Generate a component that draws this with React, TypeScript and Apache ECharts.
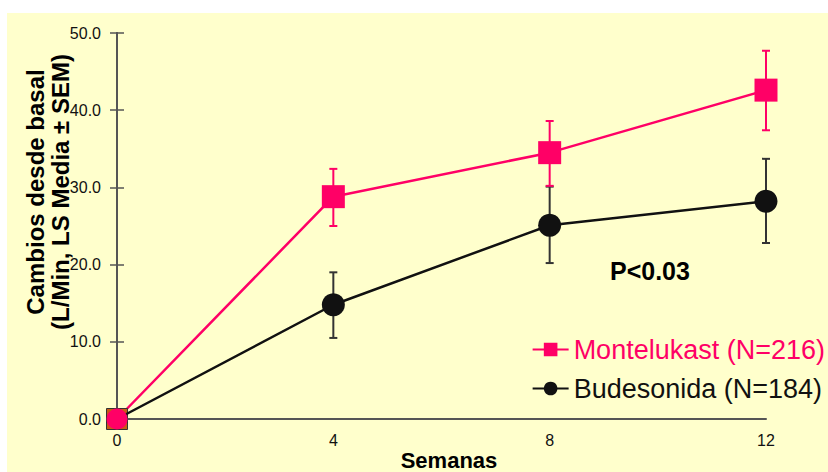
import React, { useEffect, useRef } from 'react';
import * as echarts from 'echarts';

const weeks = [0, 4, 8, 12];
const montMean = [0, 28.8, 34.5, 42.6];
const montLow = [0, 25.0, 30.2, 37.4];
const montHigh = [0, 32.4, 38.6, 47.7];
const budMean = [0, 14.8, 25.1, 28.2];
const budLow = [0, 10.5, 20.2, 22.8];
const budHigh = [0, 19.0, 30.1, 33.7];
const seriesNames = ['Montelukast (N=216)', 'Budesonida (N=184)'];
const yTitle = 'Cambios desde basal\n(L/Min, LS Media ± SEM)';
const xTitle = 'Semanas';
const pText = 'P<0.03';

const PINK = '#ff0066';
const DARK = '#111111';
const FONT = '"Liberation Sans", Arial, sans-serif';

function errorSeries(name: string, low: number[], high: number[], color: string) {
  return {
    name,
    type: 'custom',
    coordinateSystem: 'cartesian2d',
    xAxisIndex: 0,
    yAxisIndex: 0,
    z: 1,
    data: weeks.map((w, i) => [w, low[i], high[i]]),
    renderItem: (_p: any, api: any) => {
      const x = api.value(0);
      const lo = api.value(1);
      const hi = api.value(2);
      if (lo === hi) return null;
      const t = api.coord([x, hi]);
      const b = api.coord([x, lo]);
      const w = 4;
      const st = { stroke: color, lineWidth: 2 };
      return {
        type: 'group',
        children: [
          { type: 'line', shape: { x1: t[0], y1: t[1], x2: b[0], y2: b[1] }, style: st },
          { type: 'line', shape: { x1: t[0] - w, y1: t[1], x2: t[0] + w, y2: t[1] }, style: st },
          { type: 'line', shape: { x1: b[0] - w, y1: b[1], x2: b[0] + w, y2: b[1] }, style: st },
        ],
      };
    },
  };
}

export default function App() {
  const ref = useRef<HTMLDivElement>(null);
  useEffect(() => {
    document.body.style.margin = '0';
    const chart = echarts.init(ref.current!, null, { renderer: 'svg' });
    const axisCommon = {
      type: 'value',
      min: 0,
      max: 50,
      interval: 10,
      position: 'left',
      splitLine: { show: false },
      axisLine: { show: true, lineStyle: { color: '#555', width: 2 } },
    };
    chart.setOption({
      animation: false,
      textStyle: { fontFamily: FONT },
      grid: { left: 117, right: 62, top: 33, bottom: 53, containLabel: false, outerBoundsMode: 'none' },
      graphic: [
        { type: 'rect', z: -10, shape: { x: 7, y: 13, width: 900, height: 500 }, style: { fill: '#ffffcc' } },
        {
          type: 'text',
          x: 48,
          y: 192,
          rotation: Math.PI / 2,
          style: {
            text: yTitle,
            font: `bold 24px ${FONT}`,
            fill: '#000',
            align: 'center',
            verticalAlign: 'middle',
            lineHeight: 25,
          },
        },
        {
          type: 'text',
          x: 449,
          y: 460,
          style: {
            text: xTitle,
            font: `bold 22px ${FONT}`,
            fill: '#000',
            align: 'center',
            verticalAlign: 'middle',
          },
        },
        {
          type: 'text',
          x: 610,
          y: 271,
          style: {
            text: pText,
            font: `bold 25px ${FONT}`,
            fill: '#000',
            align: 'left',
            verticalAlign: 'middle',
          },
        },
      ],
      legend: {
        data: [
          { name: seriesNames[0], textStyle: { color: PINK } },
          { name: seriesNames[1], textStyle: { color: DARK } },
        ],
        orient: 'vertical',
        right: 3,
        top: 336,
        padding: 0,
        itemGap: 12,
        itemWidth: 36,
        itemHeight: 17,
        textStyle: { fontSize: 27, fontFamily: FONT },
      },
      xAxis: {
        type: 'value',
        min: 0,
        max: 12,
        interval: 4,
        splitLine: { show: false },
        axisLine: { show: true, onZero: false, lineStyle: { color: '#555', width: 2 } },
        axisTick: { show: false },
        axisLabel: { fontSize: 16, color: '#111', margin: 13 },
      },
      yAxis: [
        {
          ...axisCommon,
          axisTick: { show: true, inside: false, length: 7, lineStyle: { color: '#555', width: 1.5 } },
          axisLabel: { fontSize: 16, color: '#111', margin: 16, formatter: (v: number) => v.toFixed(1) },
        },
        {
          ...axisCommon,
          axisTick: { show: true, inside: true, length: 7, lineStyle: { color: '#555', width: 1.5 } },
          axisLabel: { show: false },
        },
      ],
      series: [
        errorSeries('errB', budLow, budHigh, '#333'),
        errorSeries('errM', montLow, montHigh, PINK),
        {
          name: seriesNames[0],
          type: 'line',
          z: 3,
          symbol: 'rect',
          symbolSize: 23,
          lineStyle: { color: PINK, width: 2.5 },
          itemStyle: { color: PINK },
          data: weeks.map((w, i) =>
            i === 0
              ? { value: [w, montMean[i]], symbolSize: 21, itemStyle: { color: '#c85a14', borderColor: '#333', borderWidth: 1 } }
              : [w, montMean[i]]
          ),
        },
        {
          name: seriesNames[1],
          type: 'line',
          z: 4,
          symbol: 'circle',
          symbolSize: 23,
          lineStyle: { color: DARK, width: 2.5 },
          itemStyle: { color: DARK },
          data: weeks.map((w, i) =>
            i === 0 ? { value: [w, budMean[i]], symbolSize: 21, itemStyle: { color: PINK } } : [w, budMean[i]]
          ),
        },
      ],
    });
    return () => chart.dispose();
  }, []);
  return <div ref={ref} style={{ width: 828, height: 472 }} />;
}
